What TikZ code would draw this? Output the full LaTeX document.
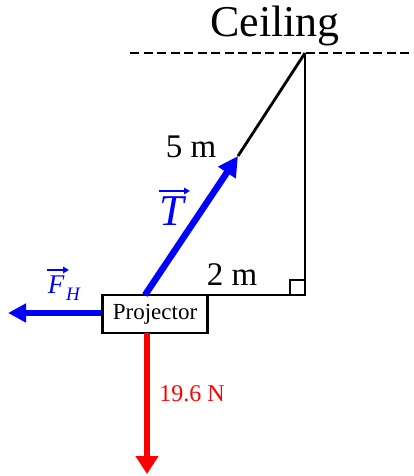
\documentclass[tikz,border=0pt]{standalone}
\usepackage{fontspec}
\setmainfont{Liberation Serif}
\usetikzlibrary{arrows.meta}
\begin{document}
\begin{tikzpicture}[x=1pt,y=-1pt,
  force/.style={line width=6.5pt,-{Triangle[length=20pt,width=20pt]}},
  thin/.style={line width=2.8pt},
  vecarrow/.style={blue, line width=2.2pt, -{Triangle[length=6pt,width=6.5pt]}},
  lbl/.style={inner sep=0pt}]
\useasboundingbox (0,0) rectangle (414,476);
% ceiling
\coordinate (cl) at (130,53);
\coordinate (cr) at (414,53);
\draw[line width=2.8pt, dash pattern=on 9pt off 4.5pt] (cl) -- (cr);
\node[lbl, font=\fontsize{44}{46}\selectfont] (ceil) at (275,26) {Ceiling};
% geometry
\coordinate (top) at (305,53);
\coordinate (corner) at (305,295);
\coordinate (att) at (145,295);
\coordinate (ttip) at (238,156);
\node[draw, line width=2.8pt, minimum width=105pt, minimum height=38pt, inner sep=0pt,
  font=\fontsize{23}{25}\selectfont, fill=white] (proj) at (155,314) {Projector};
\draw[thin] (top) -- (corner) -- (proj.east |- corner);
\draw[thin] (top) -- (ttip);
\draw[line width=2.2pt] (290,295) -- (290,280) -- (305,280);
% forces
\draw[force, blue] (att) -- (ttip);
\coordinate (fhtip) at (8,313);
\draw[force, blue, -{Triangle[length=18pt,width=18pt]}] (proj.west) ++(0,-1) -- (fhtip);
\coordinate (wtip) at (147,474);
\draw[force, red, -{Triangle[length=18pt,width=22pt]}] (147,333) -- (wtip);
% labels
\node[lbl, font=\fontsize{33}{35}\selectfont] (five) at (191,147) {5 m};
\node[lbl, font=\fontsize{33}{35}\selectfont] (two) at (232,275) {2 m};
\node[lbl, blue, font=\fontsize{44}{46}\selectfont\itshape, anchor=base] (T) at (172,225) {T};
\coordinate (ta) at (159,191);
\coordinate (tb) at (190,191);
\draw[vecarrow] (ta) -- (tb);
\node[lbl, blue, font=\fontsize{27}{29}\selectfont\itshape, anchor=base] (F) at (56,293) {F};
\node[lbl, blue, font=\fontsize{19}{21}\selectfont\itshape, anchor=base] (H) at (73,300) {H};
\coordinate (fa) at (47,270);
\coordinate (fb) at (69,270);
\draw[vecarrow] (fa) -- (fb);
\node[lbl, red, font=\fontsize{24}{26}\selectfont] (W) at (192,394) {19.6 N};
\end{tikzpicture}
\end{document}
